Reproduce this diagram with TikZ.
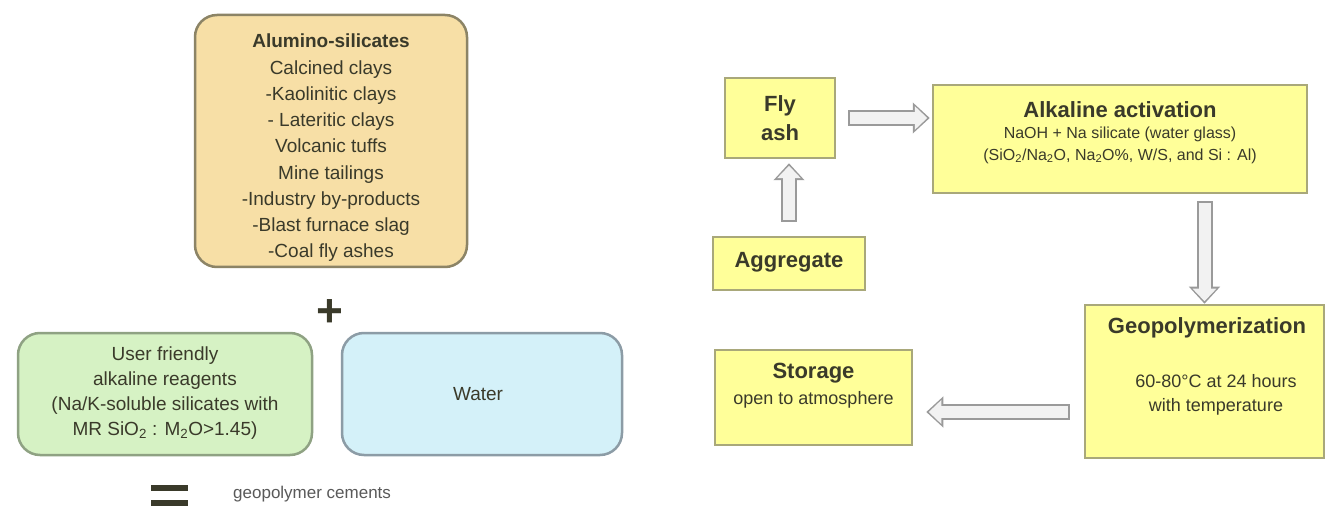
\documentclass[tikz,border=0pt]{standalone}
\usepackage{fontspec}
\setmainfont{Liberation Sans}
\usetikzlibrary{arrows.meta}
\definecolor{orfill}{HTML}{F7DFA6}
\definecolor{ordraw}{HTML}{8C8466}
\definecolor{grfill}{HTML}{D6F2C4}
\definecolor{grdraw}{HTML}{8FA283}
\definecolor{wafill}{HTML}{D4F1F9}
\definecolor{wadraw}{HTML}{8C9CA6}
\definecolor{yefill}{HTML}{FFFF99}
\definecolor{yedraw}{HTML}{A9A87A}
\definecolor{txt}{HTML}{3A3A2A}
\definecolor{arr}{HTML}{9A9A9A}
\definecolor{arrin}{HTML}{F2F2F2}
\tikzset{
  roundbox/.style={rounded corners=22pt, line width=2.5pt, inner sep=0pt},
  yebox/.style={draw=yedraw, fill=yefill, line width=2.5pt, inner sep=0pt},
  lbl/.style={text=txt, inner sep=0pt, align=center},
  hollowout/.style={draw=arr, line width=16pt, -{Triangle[length=17pt,width=30pt]}},
  hollowin/.style={draw=arrin, line width=12pt, -{Triangle[length=12.5pt,width=23pt]}},
}
\begin{document}
\begin{tikzpicture}[x=1pt,y=-1pt]
\useasboundingbox (0,0) rectangle (1326,513);
\fill[white] (0,0) rectangle (1326,513);
% left part
\node[roundbox, draw=ordraw, fill=orfill, minimum width=272pt, minimum height=252pt] (alum) at (331,141) {};
\node[lbl, font=\fontsize{19}{26.25}\selectfont] (alumtxt) at (331,148)
 {\textbf{Alumino-silicates}\\Calcined clays\\-Kaolinitic clays\\- Lateritic clays\\Volcanic tuffs\\Mine tailings\\-Industry by-products\\-Blast furnace slag\\-Coal fly ashes};
\node[lbl, font=\fontsize{46}{46}\bfseries\selectfont] (plus) at (330,313) {+};
\node[roundbox, draw=grdraw, fill=grfill, minimum width=294pt, minimum height=122pt] (alk) at (165,394) {};
\node[lbl, font=\fontsize{19}{25}\selectfont] (alktxt) at (165,393)
 {User friendly\\alkaline reagents\\(Na/K-soluble silicates with\\MR SiO\textsubscript{2} : M\textsubscript{2}O>1.45)};
\node[roundbox, draw=wadraw, fill=wafill, minimum width=280pt, minimum height=122pt] (water) at (482,394) {};
\node[lbl, font=\fontsize{19}{20}\selectfont] (watertxt) at (478,394) {Water};
\fill[txt] (151,485) rectangle (188,491);
\fill[txt] (151,500) rectangle (188,506);
\node[lbl, anchor=west, text=black!65, font=\fontsize{17}{18}\selectfont] (gc) at (233,494) {geopolymer cements};
% right part
\node[yebox, minimum width=110pt, minimum height=80pt] (fly) at (780,118) {};
\node[lbl, font=\fontsize{22}{29}\bfseries\selectfont] (flytxt) at (780,118) {Fly\\ash};
\node[yebox, minimum width=374pt, minimum height=108pt] (act) at (1120,139) {};
\node[lbl, font=\fontsize{22}{24}\bfseries\selectfont] (acttitle) at (1120,110) {Alkaline activation};
\node[lbl, font=\fontsize{16}{22}\selectfont] (acttxt) at (1120,145)
 {NaOH + Na silicate (water glass)\\(SiO\textsubscript{2}/Na\textsubscript{2}O, Na\textsubscript{2}O\%, W/S, and Si : Al)};
\node[yebox, minimum width=152pt, minimum height=53pt] (agg) at (789,263.5) {};
\node[lbl, font=\fontsize{22}{24}\bfseries\selectfont] (aggtxt) at (789,262) {Aggregate};
\node[yebox, minimum width=239pt, minimum height=153pt] (geo) at (1204.5,381.5) {};
\node[lbl, font=\fontsize{22}{24}\bfseries\selectfont] (geotitle) at (1207,328) {Geopolymerization};
\node[lbl, font=\fontsize{18}{24}\selectfont] (geotxt) at (1216,395) {60-80°C at 24 hours\\with temperature};
\node[yebox, minimum width=197pt, minimum height=95pt] (sto) at (813.5,397.5) {};
\node[lbl, font=\fontsize{22}{24}\bfseries\selectfont] (stotitle) at (813.5,373) {Storage};
\node[lbl, font=\fontsize{18}{20}\selectfont] (stotxt) at (813.5,400) {open to atmosphere};
% arrows
\draw[hollowout, shorten <=12pt, shorten >=2pt] (fly.east) -- (fly.east -| act.west);
\draw[hollowin, shorten <=14pt, shorten >=4.5pt] (fly.east) -- (fly.east -| act.west);
\draw[hollowout, shorten <=14pt, shorten >=4pt] (agg.north) -- (agg.north |- fly.south);
\draw[hollowin, shorten <=16pt, shorten >=6.5pt] (agg.north) -- (agg.north |- fly.south);
\draw[hollowout, shorten <=7pt, shorten >=0pt] (act.south -| geo.north) -- (geo.north);
\draw[hollowin, shorten <=9pt, shorten >=2.5pt] (act.south -| geo.north) -- (geo.north);
\draw[hollowout, shorten <=14pt, shorten >=13pt] (geo.west |- 0,412) -- (sto.east |- 0,412);
\draw[hollowin, shorten <=16pt, shorten >=15.5pt] (geo.west |- 0,412) -- (sto.east |- 0,412);
\end{tikzpicture}
\end{document}
